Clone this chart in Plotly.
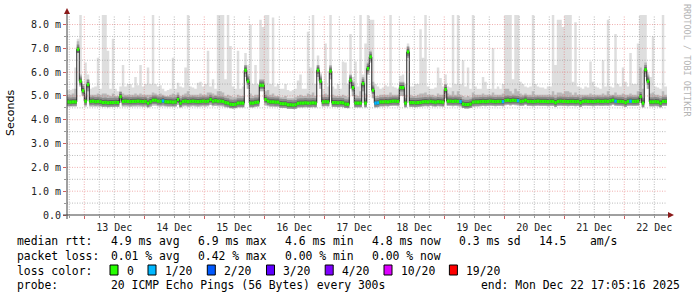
import pandas as pd
import plotly.graph_objects as go

# ---------------- data (hourly bins starting 2025-12-12 17:00) ----------------
median_ms = [
    4.75, 4.74, 4.75, 4.75, 6.96, 5.62, 5.22, 4.78, 5.48, 4.77,
    4.78, 4.76, 4.77, 4.75, 4.72, 4.73, 4.71, 4.72, 4.72, 4.73,
    4.72, 4.97, 4.77, 4.78, 4.77, 4.76, 4.77, 4.77, 4.78, 4.77,
    4.76, 4.77, 4.70, 4.76, 4.82, 4.82, 4.78, 4.77, 4.79, 4.76,
    4.75, 4.75, 4.74, 4.75, 4.85, 4.70, 4.77, 4.78, 4.76, 4.77,
    4.78, 4.77, 4.76, 4.77, 4.78, 4.77, 4.78, 4.85, 4.78, 4.80,
    4.78, 4.78, 4.77, 4.72, 4.70, 4.65, 4.64, 4.65, 4.70, 4.70,
    4.70, 6.08, 5.62, 4.70, 4.70, 4.73, 4.74, 5.45, 5.45, 4.85,
    4.78, 4.75, 4.75, 4.74, 4.74, 4.68, 4.67, 4.67, 4.63, 4.63,
    4.62, 4.63, 4.69, 4.70, 4.70, 4.71, 4.70, 4.70, 4.71, 4.70,
    6.08, 5.62, 4.75, 4.76, 4.75, 6.04, 4.72, 4.72, 4.71, 4.72,
    4.71, 4.66, 4.65, 5.66, 5.35, 4.70, 4.70, 4.70, 5.52, 4.70,
    6.15, 6.64, 5.24, 4.70, 4.71, 4.75, 4.75, 4.76, 4.75, 4.77,
    4.78, 4.78, 4.77, 5.35, 5.35, 4.70, 6.85, 4.72, 4.72, 4.71,
    4.72, 4.73, 4.75, 4.76, 4.75, 4.77, 4.75, 4.74, 4.76, 4.75,
    4.74, 5.27, 4.78, 4.78, 4.77, 4.78, 4.77, 4.76, 4.66, 4.64,
    4.64, 4.66, 4.74, 4.75, 4.75, 4.76, 4.77, 4.76, 4.77, 4.78,
    4.77, 4.76, 4.77, 4.77, 4.76, 4.81, 4.82, 4.80, 4.82, 4.81,
    4.80, 4.77, 4.78, 4.82, 4.77, 4.77, 4.76, 4.77, 4.78, 4.77,
    4.77, 4.77, 4.76, 4.77, 4.77, 4.72, 4.77, 4.78, 4.77, 4.77,
    4.76, 4.77, 4.77, 4.76, 4.77, 4.72, 4.77, 4.78, 4.77, 4.77,
    4.76, 4.77, 4.78, 4.77, 4.77, 4.78, 4.77, 4.79, 4.82, 4.78,
    4.77, 4.77, 4.76, 4.72, 4.77, 4.78, 4.77, 4.77, 4.78, 4.97,
    4.70, 6.10, 5.62, 4.75, 4.75, 4.76, 4.75, 4.70, 4.77, 4.77,
    4.77,
]

smoke_max_ms = [
    5.25, 5.25, 5.3, 6.2, 7.4, 9.0, 5.5, 6.4, 5.9, 5.3,
    5.35, 5.4, 6.6, 5.3, 9.0, 9.0, 6.9, 5.3, 7.4, 5.3,
    5.2, 5.4, 6.3, 5.4, 5.5, 5.5, 5.35, 5.8, 5.45, 6.3,
    5.4, 5.5, 6.2, 5.5, 9.0, 5.5, 5.4, 5.45, 5.3, 5.2,
    5.25, 5.3, 6.6, 5.3, 5.55, 5.4, 5.35, 6.2, 9.0, 5.4,
    5.35, 5.3, 5.55, 5.6, 5.4, 5.5, 6.9, 5.4, 5.7, 5.3,
    9.0, 9.0, 9.0, 5.7, 9.0, 7.1, 5.4, 5.3, 6.9, 5.3,
    5.4, 6.8, 6.3, 8.0, 5.5, 6.3, 5.5, 8.2, 7.9, 9.0,
    9.0, 5.5, 8.3, 5.4, 5.5, 5.3, 5.3, 5.5, 5.25, 5.2,
    5.25, 5.3, 5.65, 5.9, 5.3, 5.3, 7.7, 6.2, 9.0, 5.5,
    6.7, 6.0, 5.3, 7.2, 5.4, 9.0, 5.4, 5.3, 5.5, 5.3,
    6.45, 6.4, 5.5, 7.6, 5.8, 6.45, 5.4, 9.0, 5.9, 7.2,
    9.0, 8.2, 8.2, 5.5, 5.4, 5.3, 5.35, 5.45, 5.4, 9.0,
    5.4, 5.35, 5.3, 5.85, 5.9, 5.5, 7.2, 5.4, 5.4, 5.5,
    5.5, 7.8, 6.6, 9.0, 5.4, 5.3, 5.3, 5.35, 6.2, 5.75,
    5.4, 5.9, 5.4, 5.35, 9.0, 5.5, 9.0, 5.5, 6.5, 5.4,
    6.2, 5.3, 9.0, 5.4, 5.3, 5.3, 5.8, 5.6, 5.3, 5.3,
    7.0, 5.3, 5.4, 5.3, 5.5, 9.0, 9.0, 9.0, 5.7, 9.0,
    9.0, 5.6, 5.5, 5.4, 5.35, 5.4, 9.0, 5.5, 5.4, 5.35,
    5.35, 5.3, 5.4, 5.4, 9.0, 6.3, 8.2, 8.2, 7.9, 9.0,
    9.0, 9.0, 5.6, 8.1, 5.4, 5.35, 5.3, 5.4, 5.35, 6.45,
    5.6, 5.4, 5.35, 5.3, 6.5, 5.4, 8.2, 5.4, 5.35, 7.6,
    5.5, 5.4, 6.2, 5.6, 5.4, 6.8, 5.5, 5.5, 7.2, 9.0,
    9.0, 9.0, 6.0, 5.8, 7.5, 5.4, 5.35, 5.3, 9.0, 5.4,
    5.4,
]

smoke_mid_ms = [
    5.05, 5.05, 5.1, 5.3, 7.3, 5.9, 5.5, 5.1, 5.7, 5.05,
    5.05, 5.05, 5.1, 5.05, 5.1, 5.1, 5.05, 5.0, 5.1, 5.0,
    5.0, 5.2, 5.1, 5.05, 5.05, 5.05, 5.05, 5.1, 5.05, 5.1,
    5.05, 5.05, 5.05, 5.05, 5.15, 5.1, 5.05, 5.1, 5.05, 5.0,
    5.0, 5.05, 5.1, 5.05, 5.15, 5.0, 5.05, 5.1, 5.2, 5.05,
    5.05, 5.05, 5.05, 5.1, 5.05, 5.05, 5.15, 5.15, 5.1, 5.05,
    5.2, 5.2, 5.15, 5.0, 5.05, 5.0, 4.95, 4.95, 5.05, 5.0,
    5.0, 6.3, 5.9, 5.1, 5.0, 5.05, 5.05, 5.7, 5.7, 5.2,
    5.25, 5.05, 5.1, 5.0, 5.0, 4.95, 4.95, 5.0, 4.9, 4.9,
    4.9, 4.95, 5.0, 5.05, 5.0, 5.0, 5.1, 5.05, 5.15, 5.0,
    6.3, 5.9, 5.05, 5.1, 5.05, 6.3, 5.05, 5.0, 5.0, 5.0,
    5.05, 5.0, 4.95, 5.9, 5.6, 5.05, 5.0, 5.2, 5.8, 5.1,
    6.4, 6.9, 5.6, 5.0, 5.0, 5.05, 5.05, 5.05, 5.05, 5.15,
    5.05, 5.05, 5.05, 5.6, 5.6, 5.05, 7.1, 5.05, 5.0, 5.0,
    5.05, 5.1, 5.1, 5.15, 5.05, 5.05, 5.05, 5.0, 5.1, 5.05,
    5.05, 5.5, 5.1, 5.05, 5.2, 5.05, 5.2, 5.05, 5.0, 4.95,
    5.0, 4.95, 5.15, 5.05, 5.05, 5.05, 5.1, 5.05, 5.05, 5.05,
    5.15, 5.05, 5.05, 5.05, 5.1, 5.3, 5.3, 5.2, 5.1, 5.3,
    5.2, 5.1, 5.05, 5.1, 5.05, 5.05, 5.2, 5.05, 5.05, 5.05,
    5.05, 5.05, 5.05, 5.05, 5.2, 5.05, 5.15, 5.15, 5.1, 5.2,
    5.2, 5.15, 5.05, 5.15, 5.05, 5.05, 5.05, 5.05, 5.05, 5.1,
    5.05, 5.05, 5.05, 5.05, 5.1, 5.05, 5.2, 5.05, 5.05, 5.15,
    5.05, 5.05, 5.1, 5.05, 5.05, 5.1, 5.05, 5.05, 5.2, 6.2,
    5.3, 6.4, 5.9, 5.1, 5.15, 5.05, 5.05, 5.0, 5.2, 5.05,
    5.05,
]

smoke_min_ms = [
    4.56, 4.56, 4.56, 4.56, 6.8, 5.4, 5.0, 4.56, 5.2, 4.56,
    4.56, 4.56, 4.56, 4.56, 4.54, 4.54, 4.53, 4.54, 4.54, 4.54,
    4.54, 4.7, 4.56, 4.56, 4.56, 4.55, 4.56, 4.56, 4.56, 4.56,
    4.55, 4.56, 4.52, 4.55, 4.6, 4.6, 4.57, 4.56, 4.57, 4.56,
    4.55, 4.55, 4.55, 4.55, 4.62, 4.52, 4.56, 4.57, 4.55, 4.56,
    4.57, 4.56, 4.55, 4.56, 4.57, 4.56, 4.57, 4.62, 4.57, 4.58,
    4.57, 4.57, 4.56, 4.53, 4.52, 4.48, 4.47, 4.48, 4.52, 4.52,
    4.52, 5.8, 5.3, 4.52, 4.52, 4.54, 4.55, 5.2, 5.2, 4.6,
    4.57, 4.55, 4.55, 4.54, 4.54, 4.5, 4.49, 4.49, 4.46, 4.46,
    4.45, 4.46, 4.51, 4.52, 4.52, 4.53, 4.52, 4.52, 4.53, 4.52,
    5.8, 5.3, 4.56, 4.57, 4.56, 5.7, 4.54, 4.54, 4.53, 4.54,
    4.53, 4.49, 4.48, 5.3, 5.0, 4.52, 4.52, 4.52, 5.2, 4.52,
    5.9, 6.4, 4.9, 4.52, 4.53, 4.56, 4.56, 4.57, 4.56, 4.58,
    4.58, 4.58, 4.57, 5.0, 5.0, 4.52, 6.6, 4.54, 4.54, 4.53,
    4.54, 4.55, 4.56, 4.57, 4.56, 4.58, 4.56, 4.55, 4.57, 4.56,
    4.55, 4.9, 4.58, 4.58, 4.57, 4.58, 4.57, 4.56, 4.49, 4.47,
    4.47, 4.49, 4.55, 4.56, 4.56, 4.57, 4.58, 4.57, 4.58, 4.58,
    4.58, 4.57, 4.58, 4.58, 4.57, 4.61, 4.62, 4.6, 4.62, 4.61,
    4.6, 4.58, 4.58, 4.62, 4.58, 4.58, 4.57, 4.58, 4.58, 4.58,
    4.58, 4.58, 4.57, 4.58, 4.58, 4.54, 4.58, 4.58, 4.58, 4.58,
    4.57, 4.58, 4.58, 4.57, 4.58, 4.54, 4.58, 4.58, 4.58, 4.58,
    4.57, 4.58, 4.58, 4.58, 4.58, 4.58, 4.58, 4.59, 4.62, 4.58,
    4.58, 4.58, 4.57, 4.54, 4.58, 4.58, 4.58, 4.58, 4.58, 4.7,
    4.52, 5.8, 5.3, 4.56, 4.56, 4.57, 4.56, 4.52, 4.58, 4.58,
    4.58,
]

# hours (bin index) where 1 of 20 pings was lost
loss_1_of_20_hours = [38, 123, 124, 157, 174, 180, 219, 225]

loss_labels = ["0", "1/20", "2/20", "3/20", "4/20", "10/20", "19/20"]
loss_colors = ["#26ff00", "#00b8ff", "#0059ff", "#5e00ff", "#7e00ff", "#dd00ff", "#ff0000"]

y_tick_values = [0, 1, 2, 3, 4, 5, 6, 7, 8]
y_tick_labels = ["0.0", "1.0 m", "2.0 m", "3.0 m", "4.0 m", "5.0 m", "6.0 m", "7.0 m", "8.0 m"]

rtt_stats = ["4.9 ms avg", "6.9 ms max", "4.6 ms min", "4.8 ms now", "0.3 ms sd", "14.5", "am/s"]
loss_stats = ["0.01 % avg", "0.42 % max", "0.00 % min", "0.00 % now"]
probe_text = "20 ICMP Echo Pings (56 Bytes) every 300s"
end_text = "end: Mon Dec 22 17:05:16 2025"

t_first_bin = pd.Timestamp("2025-12-12 17:00:00")
x_start = pd.Timestamp("2025-12-12 17:05:16")
x_end = pd.Timestamp("2025-12-22 17:05:16")

n = len(median_ms)
for name, arr in [("smoke_max_ms", smoke_max_ms), ("smoke_mid_ms", smoke_mid_ms), ("smoke_min_ms", smoke_min_ms)]:
    if len(arr) != n:
        raise SystemExit(f"length mismatch {name}: {len(arr)} vs {n}")

edges = pd.date_range(t_first_bin, periods=n + 1, freq="h")


def step(vals):
    return list(vals) + [vals[-1]]


# ---------------- geometry helpers (pixel -> paper) ----------------
PL, PR, PT, PB = 67, 667, 15, 215
W, H = 697, 297


def px(x):
    return (x - PL) / (PR - PL)


def py(y):
    return (PB - y) / (PB - PT)


fig = go.Figure()


def band(lower, upper, color):
    fig.add_trace(go.Scatter(x=edges, y=step(lower), mode="lines", line=dict(width=0, shape="hv"),
                             hoverinfo="skip", showlegend=False))
    fig.add_trace(go.Scatter(x=edges, y=step(upper), mode="lines", line=dict(width=0, shape="hv"),
                             fill="tonexty", fillcolor=color, hoverinfo="skip", showlegend=False))


# smoke (outer -> inner, light -> dark)
band(smoke_min_ms, smoke_max_ms, "#dedede")
band(smoke_min_ms, smoke_mid_ms, "#b8b8b8")
band([max(m - 0.16, lo) for m, lo in zip(median_ms, smoke_min_ms)],
     [m + 0.2 for m in median_ms], "#8c8c8c")
band([max(m - 0.09, lo) for m, lo in zip(median_ms, smoke_min_ms)],
     [m + 0.11 for m in median_ms], "#606060")

# median line (black, stepped)
fig.add_trace(go.Scatter(x=edges, y=step(median_ms), mode="lines",
                         line=dict(width=1, shape="hv", color="#202020"),
                         hoverinfo="skip", showlegend=False))

# loss-coloured median marks (horizontal segments per hour)
for li, color in enumerate(loss_colors[:2]):
    xs, ys = [], []
    for i, m in enumerate(median_ms):
        is_loss = i in loss_1_of_20_hours
        if (li == 1) == is_loss:
            xs += [edges[i], edges[i + 1], None]
            ys += [m, m, None]
    fig.add_trace(go.Scatter(x=xs, y=ys, mode="lines", line=dict(width=3.2, color=color),
                             hoverinfo="skip", showlegend=False, connectgaps=False))

shapes = []
MAJ = "rgba(225,95,95,0.5)"
MIN = "rgba(140,140,140,0.6)"
grid_times = pd.date_range("2025-12-12 18:00", "2025-12-22 12:00", freq="6h")
for t in grid_times:
    shapes.append(dict(type="line", xref="x", yref="paper", x0=t, x1=t, y0=0, y1=1, layer="above",
                       line=dict(color=MAJ if t.hour == 0 else MIN, width=1, dash="1px,1.5px")))
for k in range(1, 17):
    v = k * 0.5
    shapes.append(dict(type="line", xref="paper", yref="y", x0=0, x1=1, y0=v, y1=v, layer="above",
                       line=dict(color=MAJ if k % 2 == 0 else MIN, width=1, dash="1px,1.5px")))
# axis lines with arrows
shapes.append(dict(type="line", xref="paper", yref="paper", x0=px(63), x1=px(670), y0=0, y1=0,
                   layer="above", line=dict(color="#404040", width=1)))
shapes.append(dict(type="line", xref="paper", yref="paper", x0=0, x1=0, y0=py(219), y1=py(12),
                   layer="above", line=dict(color="#404040", width=1)))
shapes.append(dict(type="path", xref="paper", yref="paper", layer="above",
                   path=f"M {px(668)} {py(212)} L {px(674)} {py(215)} L {px(668)} {py(218)} Z",
                   fillcolor="#8b1a1a", line=dict(width=0)))
shapes.append(dict(type="path", xref="paper", yref="paper", layer="above",
                   path=f"M {px(64)} {py(14)} L {px(67)} {py(8)} L {px(70)} {py(14)} Z",
                   fillcolor="#8b1a1a", line=dict(width=0)))

# legend colour boxes
box_lefts = [110, 148, 207.3, 266.5, 325.2, 384, 449.4]
for bl, c in zip(box_lefts, loss_colors):
    shapes.append(dict(type="rect", xref="paper", yref="paper", x0=px(bl), x1=px(bl + 8),
                       y0=py(275), y1=py(265), fillcolor=c, line=dict(color="#000000", width=1),
                       layer="above"))

MONO = "DejaVu Sans Mono"
LF = dict(family=MONO, size=11.4, color="#000000")
annotations = []


def text(x, y, s, anchor="left", font=LF, angle=0):
    annotations.append(dict(xref="paper", yref="paper", x=px(x), y=py(y), text=s, showarrow=False,
                            xanchor=anchor, yanchor="middle", font=font, textangle=angle,
                            borderpad=0))


row1, row2, row3, row4 = 241, 256, 270.5, 285
text(16, row1, "median rtt:")
for s, xx in zip(rtt_stats, [110, 196.5, 283.5, 370.5, 457.5, 537.5, 588.5]):
    text(xx, row1, s)
text(16, row2, "packet loss:")
for s, xx in zip(loss_stats, [110, 196.5, 283.5, 370.5]):
    text(xx, row2, s)
text(16, row3, "loss color:")
for s, bl in zip(loss_labels, box_lefts):
    text(bl + 15.5, row3, s)
text(16, row4, "probe:")
text(110, row4, probe_text)
text(681, row4, end_text, anchor="right")

text(10, 113, "Seconds", anchor="center", font=dict(family="DejaVu Sans", size=11, color="#000000"), angle=-90)
text(687, 60, "RRDTOOL / TOBI OETIKER", anchor="center",
     font=dict(family=MONO, size=8.5, color="#b4b4b4"), angle=90)

TF = dict(family=MONO, size=10, color="#222222")
fig.update_layout(
    width=W, height=H, autosize=False,
    margin=dict(l=PL, r=W - PR, t=PT, b=H - PB, pad=0),
    paper_bgcolor="#ffffff", plot_bgcolor="#ffffff",
    showlegend=False,
    shapes=shapes, annotations=annotations,
    xaxis=dict(type="date", range=[x_start, x_end], showgrid=False, zeroline=False, showline=False,
               tickformat="%d %b", dtick=86400000, tick0="2025-12-12 00:00", ticklabelmode="period",
               ticks="outside", ticklen=3, tickcolor="#d06060", tickfont=TF,
               minor=dict(dtick=6 * 3600000, tick0="2025-12-12 00:00", ticks="outside", ticklen=2,
                          tickcolor="#999999", showgrid=False)),
    yaxis=dict(range=[0, 8.4], showgrid=False, zeroline=False, showline=False,
               tickmode="array", tickvals=y_tick_values, ticktext=y_tick_labels,
               ticks="outside", ticklen=3, tickcolor="#d06060", tickfont=TF,
               minor=dict(dtick=0.5, tick0=0, ticks="outside", ticklen=2, tickcolor="#999999",
                          showgrid=False)),
)

fig.write_html("out.html")
